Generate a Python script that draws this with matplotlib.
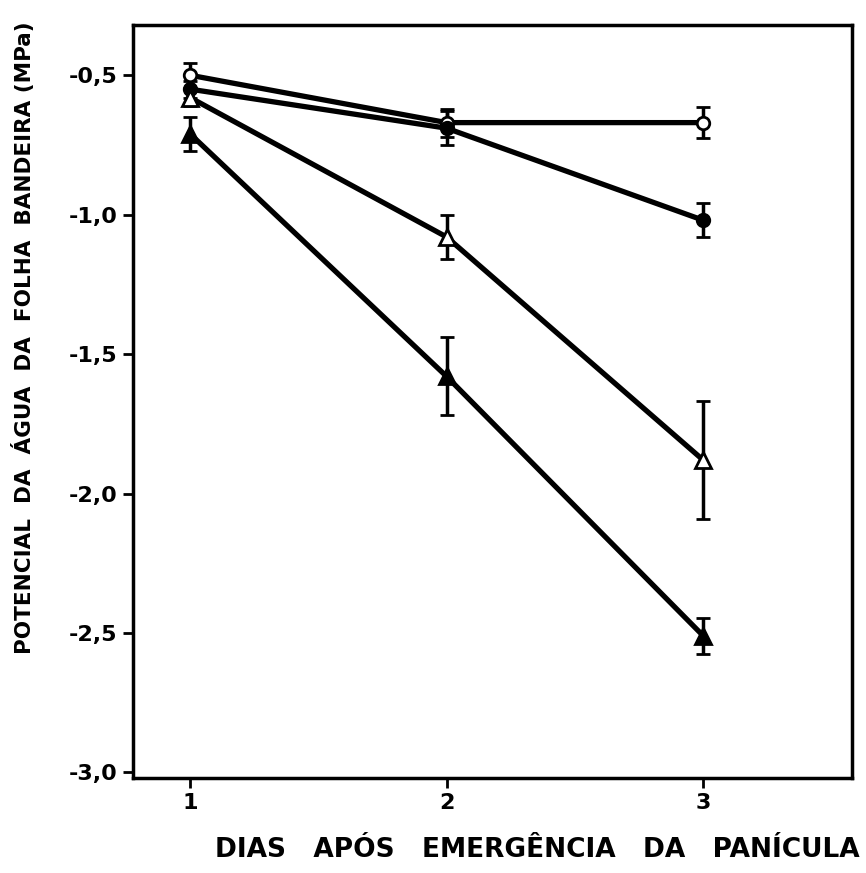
import matplotlib.pyplot as plt

dias = [1, 2, 3]

# leaf water potential (MPa) and error bars
circ_aberto = [-0.50, -0.67, -0.67]
circ_aberto_err = [0.045, 0.05, 0.055]
circ_cheio = [-0.55, -0.69, -1.02]
circ_cheio_err = [0.03, 0.06, 0.06]
tri_aberto = [-0.58, -1.08, -1.88]
tri_aberto_err = [0.03, 0.08, 0.21]
tri_cheio = [-0.71, -1.58, -2.51]
tri_cheio_err = [0.06, 0.14, 0.065]

yticks = [-0.5, -1.0, -1.5, -2.0, -2.5, -3.0]
ytick_labels = ["-0,5", "-1,0", "-1,5", "-2,0", "-2,5", "-3,0"]

plt.rcParams['font.family'] = ['DejaVu Sans']

fig = plt.figure(figsize=(8.66, 8.73), dpi=100)
ax = fig.add_axes([133 / 866, 1 - 778 / 873, (852 - 133) / 866, (778 - 25) / 873])

series = [
    (circ_aberto, circ_aberto_err, "o", "white", 9),
    (circ_cheio, circ_cheio_err, "o", "black", 9),
    (tri_aberto, tri_aberto_err, "^", "white", 12),
    (tri_cheio, tri_cheio_err, "^", "black", 12),
]
for vals, err, mk, fc, ms in series:
    ax.errorbar(dias, vals, yerr=err, color="black", linewidth=3.8,
                marker=mk, markersize=ms, markerfacecolor=fc,
                markeredgecolor="black", markeredgewidth=2,
                ecolor="black", elinewidth=2.5, capsize=5, capthick=3,
                zorder=3)

ax.set_xlim(0.778, 3.58)
ax.set_ylim(-3.02, -0.32)
ax.set_xticks(dias)
ax.set_xticklabels(["1", "2", "3"])
ax.set_yticks(yticks)
ax.set_yticklabels(ytick_labels)
ax.tick_params(direction="out", length=7, width=2, labelsize=16, pad=4)
for lab in ax.get_xticklabels() + ax.get_yticklabels():
    lab.set_fontweight("bold")
for s in ax.spines.values():
    s.set_linewidth(2.5)

fig.text(860 / 866, 1 - 850 / 873, "DIAS   APÓS   EMERGÊNCIA   DA   PANÍCULA",
         ha="right", va="center", fontsize=19, fontweight="bold")
fig.text(24 / 866, 1 - 338 / 873, "POTENCIAL  DA  ÁGUA  DA  FOLHA  BANDEIRA (MPa)",
         ha="center", va="center", rotation=90, fontsize=15.5, fontweight="bold")

fig.savefig("out.png", dpi=100)
